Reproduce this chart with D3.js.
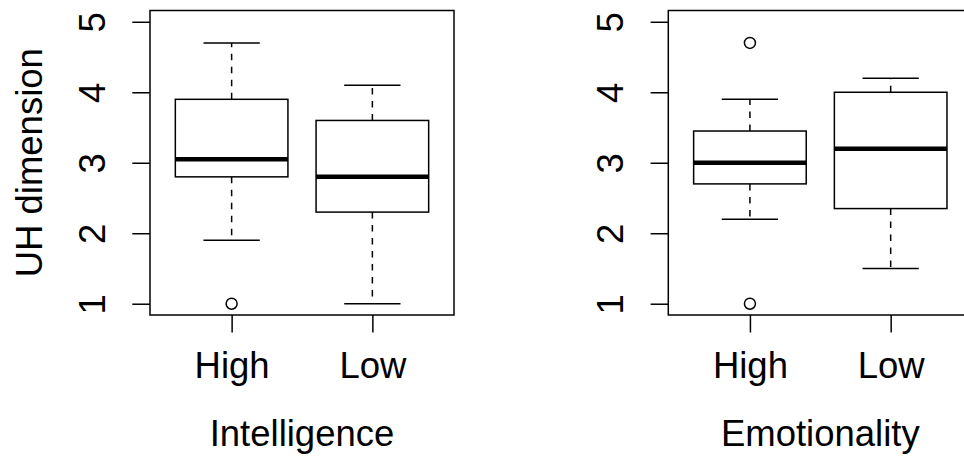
<!DOCTYPE html>
<html>
<head>
<meta charset="utf-8">
<script src="https://cdn.jsdelivr.net/npm/d3@7"></script>
<style>
  html, body { margin: 0; padding: 0; background: #fff; }
  svg { display: block; }
  text { font-family: "Liberation Sans", Arial, Helvetica, sans-serif; fill: #000; }
</style>
</head>
<body>
<svg id="chart" width="964" height="459"></svg>
<script>
// Group labels shared by both panels
const groups = ["High", "Low"];
const yTicks = [1, 2, 3, 4, 5];

// Intelligence panel: five-number summaries per group
const intelWhiskerLow  = [1.9, 1.0];
const intelQ1          = [2.8, 2.3];
const intelMedian      = [3.05, 2.8];
const intelQ3          = [3.9, 3.6];
const intelWhiskerHigh = [4.7, 4.1];
const intelOutliers    = [[1.0], []];

// Emotionality panel
const emoWhiskerLow  = [2.2, 1.5];
const emoQ1          = [2.7, 2.35];
const emoMedian      = [3.0, 3.2];
const emoQ3          = [3.45, 4.0];
const emoWhiskerHigh = [3.9, 4.2];
const emoOutliers    = [[1.0, 4.7], []];

const svg = d3.select("#chart");
const FONT = 36.5;
const LW = 1.5;

function panel(opts) {
  const left = opts.left, top = 10.5, bottom = 315, width = 304;
  const x = d3.scaleLinear().domain([0.42, 2.58]).range([left, left + width]);
  const y = d3.scaleLinear().domain([0.84, 5.16]).range([bottom, top]);
  const g = svg.append("g");

  const stats = groups.map((name, i) => ({
    name, pos: i + 1,
    lo: opts.lo[i], q1: opts.q1[i], med: opts.med[i], q3: opts.q3[i], hi: opts.hi[i],
    out: opts.out[i]
  }));
  const boxHalf = 0.4, stapleHalf = 0.2;

  const b = g.selectAll("g.box").data(stats).join("g").attr("class", "box");
  // dashed whiskers
  b.append("line")
    .attr("x1", d => x(d.pos)).attr("x2", d => x(d.pos))
    .attr("y1", d => y(d.q3)).attr("y2", d => y(d.hi))
    .attr("stroke", "#000").attr("stroke-width", LW).attr("stroke-dasharray", "6.5,6.5");
  b.append("line")
    .attr("x1", d => x(d.pos)).attr("x2", d => x(d.pos))
    .attr("y1", d => y(d.q1)).attr("y2", d => y(d.lo))
    .attr("stroke", "#000").attr("stroke-width", LW).attr("stroke-dasharray", "6.5,6.5");
  // staples
  ["lo", "hi"].forEach(k => {
    b.append("line")
      .attr("x1", d => x(d.pos - stapleHalf)).attr("x2", d => x(d.pos + stapleHalf))
      .attr("y1", d => y(d[k])).attr("y2", d => y(d[k]))
      .attr("stroke", "#000").attr("stroke-width", LW);
  });
  // boxes
  b.append("rect")
    .attr("x", d => x(d.pos - boxHalf))
    .attr("width", d => x(d.pos + boxHalf) - x(d.pos - boxHalf))
    .attr("y", d => y(d.q3))
    .attr("height", d => y(d.q1) - y(d.q3))
    .attr("fill", "#fff").attr("stroke", "#000").attr("stroke-width", LW);
  // medians
  b.append("line")
    .attr("x1", d => x(d.pos - boxHalf)).attr("x2", d => x(d.pos + boxHalf))
    .attr("y1", d => y(d.med)).attr("y2", d => y(d.med))
    .attr("stroke", "#000").attr("stroke-width", 4.5);
  // outliers
  b.selectAll("circle").data(d => d.out.map(v => ({ pos: d.pos, v }))).join("circle")
    .attr("cx", d => x(d.pos)).attr("cy", d => y(d.v)).attr("r", 5.5)
    .attr("fill", "none").attr("stroke", "#000").attr("stroke-width", LW);

  // frame
  g.append("rect")
    .attr("x", left).attr("y", top).attr("width", width).attr("height", bottom - top)
    .attr("fill", "none").attr("stroke", "#000").attr("stroke-width", LW);

  // y axis
  const ya = g.append("g").attr("transform", `translate(${left},0)`)
    .call(d3.axisLeft(y).tickValues(yTicks).tickFormat(d3.format("d")).tickSize(17.7).tickSizeOuter(0));
  ya.select(".domain").remove();
  ya.selectAll("line").attr("stroke", "#000").attr("stroke-width", LW);
  ya.selectAll("text")
    .attr("x", null).attr("dy", null)
    .attr("text-anchor", "middle")
    .attr("transform", "translate(-45.5,0) rotate(-90)")
    .style("font-size", FONT + "px")
    .style("font-family", "'Liberation Sans', Arial, sans-serif");

  // x axis
  const xa = g.append("g").attr("transform", `translate(0,${bottom})`)
    .call(d3.axisBottom(x).tickValues([1, 2]).tickFormat(d => groups[d - 1]).tickSize(17.5).tickSizeOuter(0));
  xa.select(".domain").remove();
  xa.selectAll("line").attr("stroke", "#000").attr("stroke-width", LW);
  xa.selectAll("text")
    .attr("y", 63).attr("dy", null)
    .style("font-size", FONT + "px")
    .style("font-family", "'Liberation Sans', Arial, sans-serif");

  // x title
  g.append("text")
    .attr("x", x(1.5)).attr("y", 446)
    .attr("text-anchor", "middle")
    .style("font-size", FONT + "px")
    .text(opts.title);

  if (opts.ylabel) {
    g.append("text")
      .attr("transform", `translate(41.5,${(top + bottom) / 2}) rotate(-90)`)
      .attr("text-anchor", "middle")
      .style("font-size", FONT + "px")
      .text(opts.ylabel);
  }
}

panel({
  left: 150, title: "Intelligence", ylabel: "UH dimension",
  lo: intelWhiskerLow, q1: intelQ1, med: intelMedian, q3: intelQ3, hi: intelWhiskerHigh, out: intelOutliers
});
panel({
  left: 668.3, title: "Emotionality", ylabel: null,
  lo: emoWhiskerLow, q1: emoQ1, med: emoMedian, q3: emoQ3, hi: emoWhiskerHigh, out: emoOutliers
});
</script>
</body>
</html>
